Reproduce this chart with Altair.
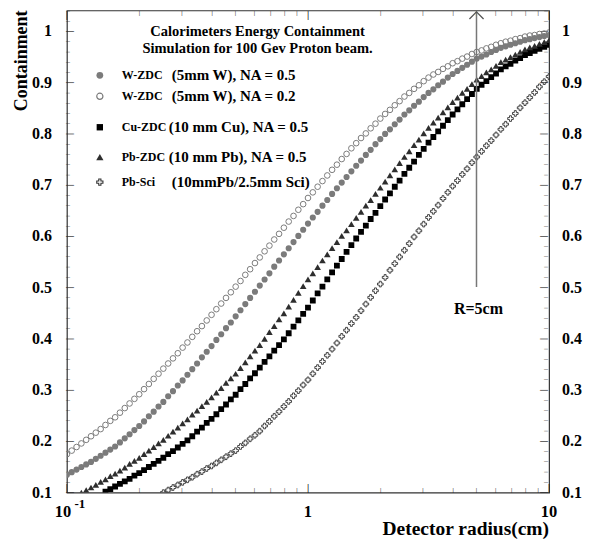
import altair as alt
import pandas as pd

# ---------------- data ----------------
LOG_STEP = 0.02  # radii are sampled every 0.02 decade starting at r = 0.1 cm

W_NA02 = [0.175, 0.182, 0.189, 0.196, 0.203, 0.210,
          0.217, 0.224, 0.232, 0.240, 0.247,
          0.256, 0.265, 0.274, 0.283, 0.292,
          0.302, 0.312, 0.322, 0.332, 0.342,
          0.352, 0.362, 0.372, 0.383, 0.393,
          0.404, 0.415, 0.425, 0.436, 0.447,
          0.458, 0.469, 0.480, 0.491, 0.502,
          0.513, 0.525, 0.536, 0.548, 0.559,
          0.571, 0.582, 0.594, 0.605, 0.617,
          0.629, 0.640, 0.652, 0.663, 0.675,
          0.686, 0.697, 0.708, 0.719, 0.730,
          0.740, 0.751, 0.761, 0.772, 0.782,
          0.792, 0.801, 0.811, 0.820, 0.830,
          0.839, 0.847, 0.856, 0.864, 0.873,
          0.880, 0.888, 0.895, 0.903, 0.910,
          0.916, 0.921, 0.927, 0.932, 0.938,
          0.942, 0.947, 0.951, 0.956, 0.960,
          0.963, 0.967, 0.970, 0.974, 0.977,
          0.980, 0.982, 0.985, 0.987, 0.990,
          0.992, 0.993, 0.995, 0.996, 0.998]

W_NA05 = [0.135, 0.140, 0.145, 0.150, 0.155, 0.160,
          0.166, 0.172, 0.178, 0.184, 0.190,
          0.198, 0.206, 0.214, 0.222, 0.230,
          0.239, 0.249, 0.258, 0.268, 0.277,
          0.288, 0.298, 0.309, 0.319, 0.330,
          0.341, 0.352, 0.364, 0.375, 0.386,
          0.398, 0.409, 0.421, 0.432, 0.444,
          0.456, 0.468, 0.480, 0.492, 0.504,
          0.516, 0.528, 0.541, 0.553, 0.565,
          0.577, 0.589, 0.601, 0.613, 0.625,
          0.637, 0.648, 0.660, 0.671, 0.683,
          0.694, 0.705, 0.716, 0.727, 0.738,
          0.748, 0.759, 0.769, 0.780, 0.790,
          0.800, 0.809, 0.819, 0.828, 0.838,
          0.846, 0.855, 0.863, 0.872, 0.880,
          0.887, 0.895, 0.902, 0.910, 0.917,
          0.923, 0.929, 0.935, 0.941, 0.947,
          0.951, 0.955, 0.960, 0.964, 0.968,
          0.971, 0.974, 0.977, 0.980, 0.983,
          0.985, 0.987, 0.989, 0.991, 0.993]

PB_NA05 = [0.100, 0.105, 0.110,
           0.115, 0.121, 0.126, 0.132, 0.137,
           0.143, 0.149, 0.156, 0.162, 0.168,
           0.175, 0.182, 0.189, 0.196, 0.203,
           0.211, 0.219, 0.227, 0.235, 0.243,
           0.252, 0.260, 0.269, 0.277, 0.286,
           0.295, 0.304, 0.314, 0.323, 0.332,
           0.343, 0.354, 0.366, 0.377, 0.388,
           0.400, 0.413, 0.425, 0.438, 0.450,
           0.463, 0.476, 0.490, 0.503, 0.516,
           0.528, 0.540, 0.553, 0.565, 0.577,
           0.589, 0.601, 0.612, 0.624, 0.636,
           0.648, 0.660, 0.671, 0.683, 0.695,
           0.707, 0.719, 0.731, 0.743, 0.755,
           0.766, 0.778, 0.789, 0.801, 0.812,
           0.822, 0.832, 0.842, 0.852, 0.862,
           0.871, 0.880, 0.888, 0.897, 0.906,
           0.913, 0.920, 0.926, 0.933, 0.940,
           0.945, 0.950, 0.955, 0.960, 0.965,
           0.969, 0.972, 0.976, 0.979, 0.983]

CU_NA05 = [0.102, 0.107, 0.112,
           0.117, 0.122, 0.127, 0.133, 0.138,
           0.144, 0.150, 0.156, 0.162, 0.168,
           0.175, 0.181, 0.188, 0.195, 0.202,
           0.210, 0.219, 0.227, 0.236, 0.244,
           0.253, 0.263, 0.272, 0.282, 0.291,
           0.302, 0.312, 0.323, 0.333, 0.344,
           0.355, 0.366, 0.377, 0.388, 0.399,
           0.411, 0.424, 0.436, 0.449, 0.461,
           0.475, 0.489, 0.502, 0.516, 0.530,
           0.543, 0.556, 0.570, 0.583, 0.596,
           0.609, 0.621, 0.634, 0.646, 0.659,
           0.672, 0.684, 0.697, 0.709, 0.722,
           0.734, 0.746, 0.759, 0.771, 0.783,
           0.794, 0.805, 0.816, 0.827, 0.838,
           0.848, 0.858, 0.868, 0.878, 0.888,
           0.896, 0.903, 0.911, 0.918, 0.926,
           0.932, 0.937, 0.943, 0.948, 0.954,
           0.958, 0.962, 0.966, 0.970, 0.974]

PB_SCI = [0.100,
          0.105, 0.110, 0.115, 0.120, 0.125,
          0.130, 0.136, 0.141, 0.147, 0.152,
          0.158, 0.164, 0.170, 0.176, 0.182,
          0.190, 0.197, 0.205, 0.212, 0.220,
          0.230, 0.239, 0.249, 0.258, 0.268,
          0.278, 0.289, 0.299, 0.310, 0.320,
          0.332, 0.344, 0.356, 0.368, 0.380,
          0.392, 0.405, 0.417, 0.430, 0.442,
          0.455, 0.468, 0.481, 0.494, 0.507,
          0.520, 0.534, 0.547, 0.560, 0.573,
          0.586, 0.599, 0.611, 0.624, 0.637,
          0.649, 0.661, 0.674, 0.686, 0.698,
          0.709, 0.721, 0.732, 0.744, 0.755,
          0.766, 0.777, 0.787, 0.798, 0.809,
          0.819, 0.830, 0.840, 0.851, 0.861,
          0.871, 0.881, 0.892, 0.902, 0.912]

SERIES_ORDER = ["W_NA05", "W_NA02", "CU_NA05", "PB_NA05", "PB_SCI"]
SERIES_VALUES = {"W_NA05": W_NA05, "W_NA02": W_NA02, "CU_NA05": CU_NA05,
                 "PB_NA05": PB_NA05, "PB_SCI": PB_SCI}
SERIES_START = {"W_NA05": 0, "W_NA02": 0, "CU_NA05": 8, "PB_NA05": 3, "PB_SCI": 20}

LEGEND_PREFIX = ["W-ZDC", "W-ZDC", "Cu-ZDC", "Pb-ZDC", "Pb-Sci"]
LEGEND_DETAIL = ["(5mm W), NA = 0.5", "(5mm W), NA = 0.2", "(10 mm Cu), NA = 0.5",
                 "(10 mm Pb), NA = 0.5", "(10mmPb/2.5mm Sci)"]
LEGEND_TITLE = ["Calorimeters Energy Containment", "Simulation for 100 Gev Proton beam."]

X_MAJOR = [0.1, 1, 10]
X_MINOR = [0.2, 0.3, 0.4, 0.5, 0.6, 0.7, 0.8, 0.9, 2, 3, 4, 5, 6, 7, 8, 9]
X_LABEL_VALUES = [1, 10]
X_LABEL_TEXT = ["1", "10"]
Y_MAJOR = [0.1, 0.2, 0.3, 0.4, 0.5, 0.6, 0.7, 0.8, 0.9, 1.0]
Y_LABEL_TEXT = ["0.1", "0.2", "0.3", "0.4", "0.5", "0.6", "0.7", "0.8", "0.9", "1"]
Y_MINOR = [0.12, 0.14, 0.16, 0.18, 0.22, 0.24, 0.26, 0.28, 0.32, 0.34, 0.36, 0.38,
           0.42, 0.44, 0.46, 0.48, 0.52, 0.54, 0.56, 0.58, 0.62, 0.64, 0.66, 0.68,
           0.72, 0.74, 0.76, 0.78, 0.82, 0.84, 0.86, 0.88, 0.92, 0.94, 0.96, 0.98,
           1.02, 1.04]
X_TITLE = "Detector radius(cm)"
Y_TITLE = "Containment"
ARROW_R = 5
ARROW_TEXT = "R=5cm"

# ---------------- styling ----------------
FONT = "Liberation Serif"
W, H = 483, 483
X_SCALE = alt.Scale(type="log", domain=[0.1, 10], nice=False)
Y_SCALE = alt.Scale(domain=[0.1, 1.041], nice=False, zero=False)
TICK_COLOR = "#222222"
CROSS = ("M-0.35,-1L0.35,-1L0.35,-0.35L1,-0.35L1,0.35L0.35,0.35L0.35,1L-0.35,1"
         "L-0.35,0.35L-1,0.35L-1,-0.35L-0.35,-0.35Z")
STYLES = {
    "W_NA05": dict(shape="circle", filled=True, color="#7b7b7b", size=38),
    "W_NA02": dict(shape="circle", filled=False, color="#7b7b7b", size=32, strokeWidth=1),
    "CU_NA05": dict(shape="square", filled=True, color="#000000", size=34),
    "PB_NA05": dict(shape="triangle-up", filled=True, color="#2e2e2e", size=44),
    "PB_SCI": dict(shape=CROSS, filled=False, color="#333333", size=32, strokeWidth=0.9),
}
LEGEND_Y = [65, 86, 117, 147, 172]
LEGEND_DETAIL_X = [105, 105, 102, 102, 105]

one = pd.DataFrame({"k": [0]})


def XD(v):
    return alt.X(datum=v, scale=X_SCALE, axis=None)


def YD(v):
    return alt.Y(datum=v, scale=Y_SCALE, axis=None)


def series_df(name):
    vals = SERIES_VALUES[name]
    start = SERIES_START[name]
    r = [10 ** (-1 + LOG_STEP * (start + k)) for k in range(len(vals))]
    return pd.DataFrame({"r": r, "c": vals})


def text(t, size, weight="bold", color="black", **kw):
    return alt.Chart(one).mark_text(text=t, font=FONT, fontSize=size, fontWeight=weight,
                                    color=color, **kw)


layers = []

# ---- inward tick marks on the four sides (bar glyphs) ----
for v in X_MAJOR + X_MINOR:
    L = 10 if v in X_MAJOR else 6
    for yc in (H - L / 2, L / 2):
        layers.append(text("|", L, weight="bold", color=TICK_COLOR, baseline="middle",
                           align="center").encode(x=XD(v), y=alt.value(yc)))
for v in Y_MAJOR + Y_MINOR:
    L = 9 if v in Y_MAJOR else 5
    for xc in (L / 2, W - L / 2):
        layers.append(text("|", L, weight="bold", color=TICK_COLOR, baseline="middle",
                           align="center", angle=90).encode(x=alt.value(xc), y=YD(v)))

# ---- axis labels and titles ----
for v, t in zip(X_LABEL_VALUES, X_LABEL_TEXT):
    layers.append(text(t, 16.5, baseline="top", align="center").encode(x=XD(v), y=alt.value(H + 11)))
layers.append(text("10", 16.5, baseline="top", align="center", dx=-4).encode(
    x=XD(X_MAJOR[0]), y=alt.value(H + 11)))
layers.append(text("-1", 13, baseline="middle", align="center", dx=13).encode(
    x=XD(X_MAJOR[0]), y=alt.value(H + 11)))
layers.append(text(X_TITLE, 19.5, baseline="alphabetic", align="right").encode(
    x=alt.value(W), y=alt.value(H + 42)))
for v, t in zip(Y_MAJOR, Y_LABEL_TEXT):
    layers.append(text(t, 16, baseline="middle", align="right").encode(x=alt.value(-15), y=YD(v)))
    layers.append(text(t, 16, baseline="middle", align="left").encode(x=alt.value(W + 13), y=YD(v)))
layers.append(text(Y_TITLE, 18, baseline="middle", align="right", angle=270).encode(
    x=alt.value(-45), y=alt.value(0)))

# ---- data series ----
for name in SERIES_ORDER:
    st = STYLES[name]
    kw = dict(shape=st["shape"], filled=st["filled"], size=st["size"], opacity=1, clip=True)
    if st["filled"]:
        kw["fill"] = st["color"]
        kw["strokeWidth"] = 0
    else:
        kw["stroke"] = st["color"]
        kw["strokeWidth"] = st["strokeWidth"]
    layers.append(
        alt.Chart(series_df(name)).mark_point(**kw).encode(
            x=alt.X("r:Q", scale=X_SCALE, axis=None),
            y=alt.Y("c:Q", scale=Y_SCALE, axis=None),
        )
    )

# ---- arrow at R = 5 cm ----
layers.append(alt.Chart(one).mark_rule(color="#777777", strokeWidth=1.5).encode(
    x=XD(ARROW_R), y=alt.value(1), y2=alt.value(277)))
layers.append(alt.Chart(one).mark_point(shape="M-1,0.5L0,-0.5L1,0.5", filled=False,
                                        stroke="#555555", strokeWidth=1.3, size=200, opacity=1).encode(
    x=XD(ARROW_R), y=alt.value(5)))
layers.append(text(ARROW_TEXT, 16, baseline="middle", align="center", dx=2).encode(
    x=XD(ARROW_R), y=alt.value(299)))

# ---- legend (drawn inside the frame, ROOT style) ----
for t, ty in zip(LEGEND_TITLE, [22, 39]):
    layers.append(text(t, 14.5, baseline="middle", align="center").encode(
        x=alt.value(191), y=alt.value(ty)))
for name, pre, det, ly, lx in zip(SERIES_ORDER, LEGEND_PREFIX, LEGEND_DETAIL, LEGEND_Y, LEGEND_DETAIL_X):
    st = STYLES[name]
    kw = dict(shape=st["shape"], filled=st["filled"], size=st["size"] * 1.2, opacity=1)
    if st["filled"]:
        kw["fill"] = st["color"]
        kw["strokeWidth"] = 0
    else:
        kw["stroke"] = st["color"]
        kw["strokeWidth"] = st["strokeWidth"] + 0.2
    layers.append(alt.Chart(one).mark_point(**kw).encode(x=alt.value(33), y=alt.value(ly)))
    layers.append(text(pre, 12, baseline="middle", align="left").encode(
        x=alt.value(55), y=alt.value(ly)))
    layers.append(text(det, 15, baseline="middle", align="left").encode(
        x=alt.value(lx), y=alt.value(ly)))

chart = alt.layer(*layers).resolve_scale(x="shared", y="shared").properties(
    width=W, height=H,
    autosize=alt.AutoSizeParams(type="none"),
    padding={"left": 59, "top": 2, "right": 40, "bottom": 46},
    background="white",
).configure_view(stroke="#333333", strokeWidth=1.2)

chart.save("out.html", embed_options={"renderer": "svg", "actions": False})
